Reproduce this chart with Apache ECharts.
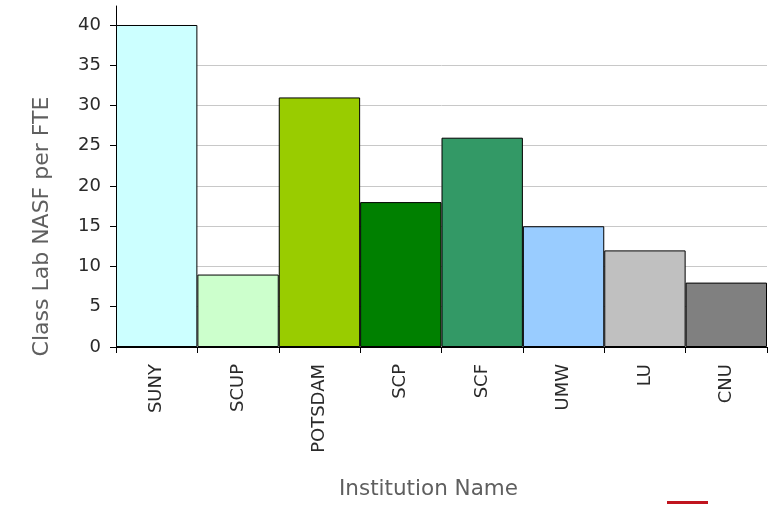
<!DOCTYPE html>
<html><head><meta charset="utf-8">
<script src="https://cdn.jsdelivr.net/npm/echarts@6/dist/echarts.min.js"></script>
<style>html,body{margin:0;padding:0;background:#fff}#c{width:771px;height:505px}</style>
</head><body><div id="c"></div>
<script>
var categories = ['SUNY','SCUP','POTSDAM','SCP','SCF','UMW','LU','CNU'];
var values = [40, 9, 31, 18, 26, 15, 12, 8];
var barColors = ['#ccffff','#ccffcc','#99cc00','#008000','#339966','#99ccff','#c0c0c0','#808080'];
var yTicks = [0,5,10,15,20,25,30,35,40];
var yTitle = 'Class Lab NASF per FTE';
var xTitle = 'Institution Name';

var chart = echarts.init(document.getElementById('c'), null, {renderer:'canvas'});
var FONT = 'DejaVu Sans';
chart.setOption({
  animation: false,
  grid: {left:116, right:4, top:6, bottom:156, containLabel:false},
  xAxis: {
    type:'category', data: categories,
    name: xTitle, nameLocation:'middle', nameGap: 131,
    nameTextStyle:{fontFamily:FONT, fontSize:21.5, color:'#5f5f5f', padding:[0,26,0,0]},
    axisLine:{lineStyle:{color:'#000', width:1}},
    axisTick:{show:true, length:6, lineStyle:{color:'#000'}},
    axisLabel:{rotate:90, fontFamily:FONT, fontSize:18, color:'#2a2a2a', margin:17}
  },
  yAxis: {
    type:'value', min:0, max:42.36, interval:5,
    name: yTitle, nameLocation:'middle', nameGap: 63, nameRotate: 90,
    nameTextStyle:{fontFamily:FONT, fontSize:22, color:'#5f5f5f', padding:[0,100,0,0]},
    axisLine:{show:true, lineStyle:{color:'#000', width:1}},
    axisTick:{show:true, length:6, lineStyle:{color:'#000'}, customValues: yTicks},
    axisLabel:{fontFamily:FONT, fontSize:18, color:'#2a2a2a', margin:15, customValues: yTicks},
    splitLine:{show:true, showMaxLine:false, lineStyle:{color:'#c8c8c8', width:1}}
  },
  series: [{
    type:'bar', barCategoryGap:'0%',
    data: values.map(function(v,i){return {value:v, itemStyle:{color:barColors[i]}};}),
    itemStyle:{borderColor:'#000', borderWidth:1}
  }],
  graphic: [{type:'rect', left:667, top:501, shape:{width:41, height:3}, style:{fill:'#c0141e'}}]
});
</script></body></html>
